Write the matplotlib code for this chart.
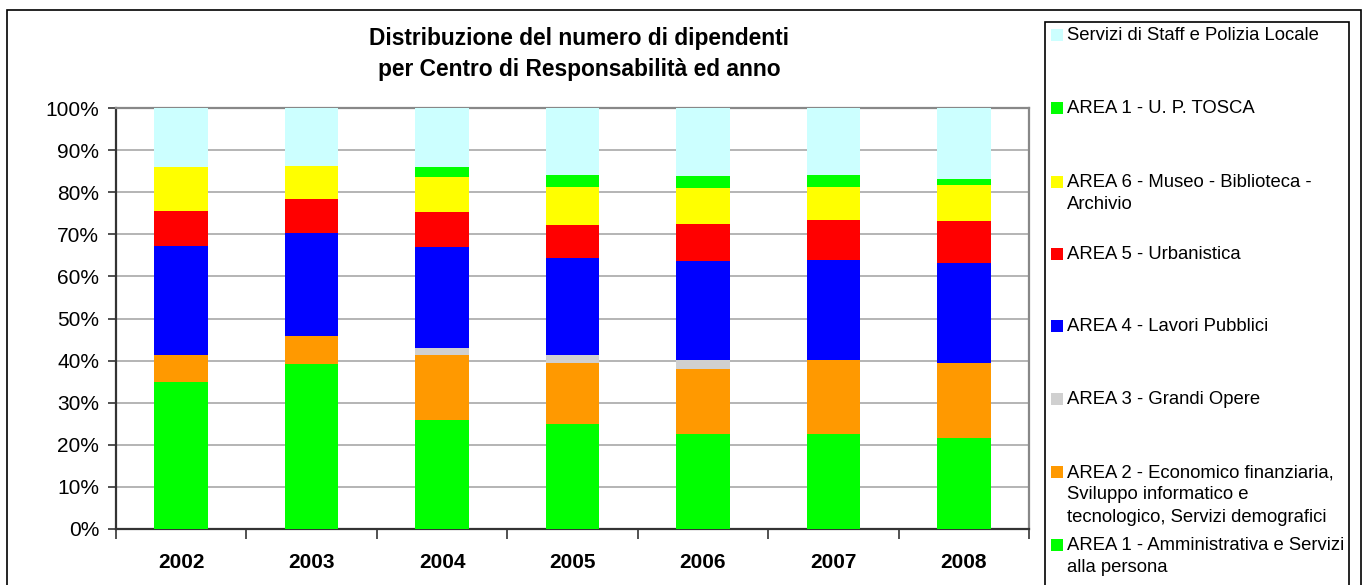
import matplotlib
matplotlib.use("Agg")
import matplotlib.pyplot as plt
from matplotlib.patches import Rectangle
from matplotlib.ticker import PercentFormatter, MultipleLocator, FixedLocator
import numpy as np

plt.rcParams['font.family'] = ['Liberation Sans', 'DejaVu Sans']

years = ["2002", "2003", "2004", "2005", "2006", "2007", "2008"]

# percentages (bottom to top)
area1_amm = [34.9, 39.2, 25.9, 24.9, 22.5, 22.7, 21.7]
area2_eco = [6.4, 6.7, 15.4, 14.4, 15.4, 17.5, 17.7]
area3_gra = [0.0, 0.0, 1.7, 2.1, 2.2, 0.0, 0.0]
area4_lav = [26.0, 24.3, 24.1, 22.9, 23.5, 23.8, 23.8]
area5_urb = [8.3, 8.2, 8.3, 7.8, 8.9, 9.5, 10.0]
area6_mus = [10.3, 7.9, 8.3, 9.0, 8.5, 7.8, 8.5]
area1_tos = [0.0, 0.0, 2.4, 2.9, 2.9, 2.9, 1.5]
staff_pol = [14.1, 13.7, 14.0, 15.9, 16.1, 15.9, 16.8]

series_labels = [
    "AREA 1 - Amministrativa e Servizi\nalla persona",
    "AREA 2 - Economico finanziaria,\nSviluppo informatico e\ntecnologico, Servizi demografici",
    "AREA 3 - Grandi Opere",
    "AREA 4 - Lavori Pubblici",
    "AREA 5 - Urbanistica",
    "AREA 6 - Museo - Biblioteca -\nArchivio",
    "AREA 1 - U. P. TOSCA",
    "Servizi di Staff e Polizia Locale",
]
series_values = [area1_amm, area2_eco, area3_gra, area4_lav, area5_urb,
                 area6_mus, area1_tos, staff_pol]
colors = ["#00FF00", "#FF9900", "#D0D0D0", "#0000FF", "#FF0000",
          "#FFFF00", "#00FF00", "#CCFFFF"]

W, H = 1367, 585
fig = plt.figure(figsize=(W / 100, H / 100), dpi=100)

def fx(px):
    return px / W

def fy(py):
    return 1 - py / H

ax = fig.add_axes([fx(116), fy(529), fx(1029) - fx(116), fy(108) - fy(529)])

x = np.arange(len(years))
vals = np.array(series_values, dtype=float)
tot = vals.sum(axis=0)
pct = vals / tot * 100
bottom = np.zeros(len(years))
for v, c in zip(pct, colors):
    ax.bar(x, v, bottom=bottom, width=0.41, color=c, edgecolor='none', zorder=3)
    bottom += v

ax.set_xlim(-0.5, len(years) - 0.5)
ax.set_ylim(0, 100)
ax.yaxis.set_major_locator(MultipleLocator(10))
ax.yaxis.set_major_formatter(PercentFormatter(decimals=0))
ax.grid(axis='y', color='#A8A8A8', linewidth=1.2, zorder=0)
ax.set_axisbelow(True)

ax.set_xticks(x)
ax.set_xticklabels(years, fontsize=15, fontweight='bold')
ax.tick_params(axis='x', length=0, pad=17)
ax.xaxis.set_minor_locator(FixedLocator(np.arange(-0.5, len(years), 1.0)))
ax.tick_params(axis='x', which='minor', length=7, width=1.2, color='#333333', direction='out')
ax.tick_params(axis='y', labelsize=15, length=6, width=1.2, color='#333333', pad=6)

for s in ['left', 'bottom']:
    ax.spines[s].set_color('#333333')
    ax.spines[s].set_linewidth(1.6)
for s in ['top', 'right']:
    ax.spines[s].set_color('#888888')
    ax.spines[s].set_linewidth(1.6)

# title
fig.text(fx(579), fy(54), "Distribuzione del numero di dipendenti\nper Centro di Responsabilità ed anno",
         ha='center', va='center', fontsize=16.4, fontweight='bold', linespacing=1.4)

# outer frame
fig.add_artist(Rectangle((fx(7), fy(600)), fx(1361) - fx(7), fy(10) - fy(600),
                         transform=fig.transFigure, fill=False, edgecolor='black', linewidth=1.2))
# legend frame
fig.add_artist(Rectangle((fx(1045), fy(600)), fx(1349) - fx(1045), fy(22) - fy(600),
                         transform=fig.transFigure, fill=False, edgecolor='black', linewidth=1.2))

# legend entries: (series index, y of first line center)
legend_rows = [(7, 34), (6, 107), (5, 181), (4, 253), (3, 325), (2, 398), (1, 471), (0, 544)]
for idx, ly in legend_rows:
    fig.add_artist(Rectangle((fx(1051), fy(ly + 7)), fx(12), 12 / H,
                             transform=fig.transFigure, facecolor=colors[idx], edgecolor='none'))
    fig.text(fx(1067), fy(ly - 7), series_labels[idx], ha='left', va='top',
             fontsize=13.3, linespacing=1.42)

fig.savefig("out.png", dpi=100)
